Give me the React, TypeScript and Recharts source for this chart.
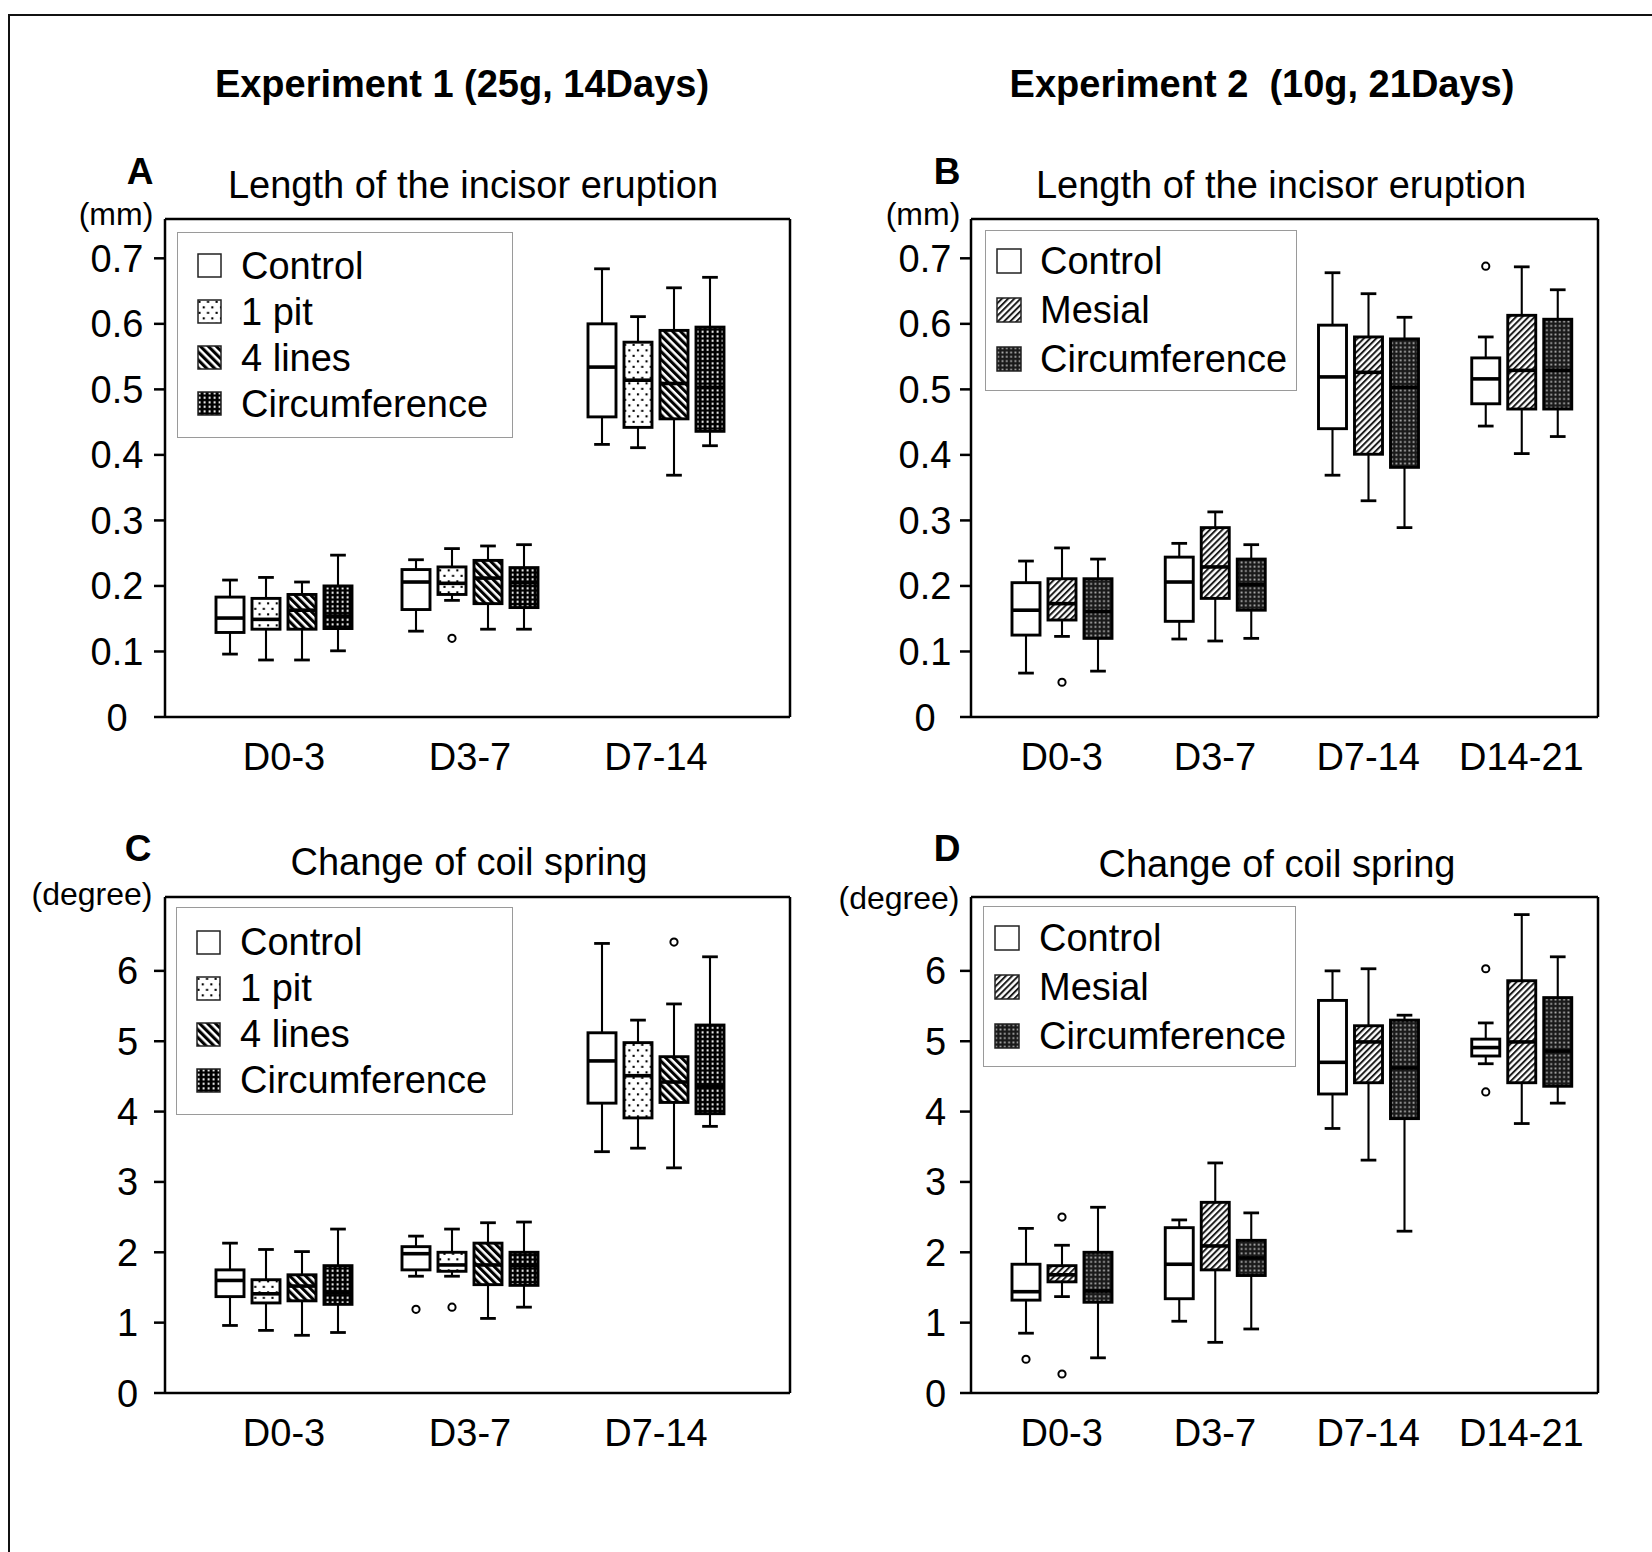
import React from 'react';
import { Bar, ComposedChart, Legend, XAxis, YAxis } from 'recharts';

const FONT = '"Liberation Sans", Arial, Helvetica, sans-serif';

// categories and labels
const exp1Days = ['D0-3', 'D3-7', 'D7-14'];
const exp2Days = ['D0-3', 'D3-7', 'D7-14', 'D14-21'];
const exp1Names = ['Control', '1 pit', '4 lines', 'Circumference'];
const exp2Names = ['Control', 'Mesial', 'Circumference'];
const mmTicks = [0, 0.1, 0.2, 0.3, 0.4, 0.5, 0.6, 0.7];
const degreeTicks = [0, 1, 2, 3, 4, 5, 6];

// each row: [low whisker, Q1, median, Q3, high whisker] for one day
// A - incisor eruption, experiment 1 (mm)
const aControl = [
  [0.096, 0.129, 0.151, 0.183, 0.209],
  [0.131, 0.164, 0.206, 0.225, 0.24],
  [0.416, 0.458, 0.534, 0.6, 0.684],
];
const aPit = [
  [0.087, 0.134, 0.149, 0.181, 0.213],
  [0.178, 0.187, 0.204, 0.229, 0.257],
  [0.411, 0.442, 0.514, 0.572, 0.611],
];
const aLines = [
  [0.087, 0.134, 0.163, 0.187, 0.206],
  [0.134, 0.173, 0.212, 0.239, 0.261],
  [0.369, 0.455, 0.509, 0.59, 0.655],
];
const aCirc = [
  [0.101, 0.135, 0.154, 0.2, 0.247],
  [0.134, 0.167, 0.205, 0.228, 0.263],
  [0.414, 0.436, 0.503, 0.595, 0.671],
];
const aPitOut = [[], [0.12], []];

// B - incisor eruption, experiment 2 (mm)
const bControl = [
  [0.067, 0.125, 0.163, 0.205, 0.238],
  [0.119, 0.146, 0.206, 0.244, 0.265],
  [0.369, 0.44, 0.519, 0.598, 0.678],
  [0.444, 0.478, 0.516, 0.548, 0.58],
];
const bMesial = [
  [0.123, 0.148, 0.173, 0.211, 0.258],
  [0.116, 0.181, 0.229, 0.289, 0.313],
  [0.33, 0.401, 0.526, 0.58, 0.646],
  [0.402, 0.47, 0.529, 0.613, 0.687],
];
const bCirc = [
  [0.07, 0.12, 0.161, 0.211, 0.241],
  [0.12, 0.163, 0.202, 0.241, 0.263],
  [0.289, 0.381, 0.503, 0.577, 0.61],
  [0.428, 0.47, 0.529, 0.607, 0.652],
];
const bControlOut = [[], [], [], [0.688]];
const bMesialOut = [[0.053], [], [], []];

// C - coil spring, experiment 1 (degree)
const cControl = [
  [0.96, 1.37, 1.6, 1.75, 2.13],
  [1.66, 1.75, 1.98, 2.08, 2.23],
  [3.43, 4.12, 4.72, 5.12, 6.39],
];
const cPit = [
  [0.89, 1.28, 1.41, 1.61, 2.04],
  [1.66, 1.73, 1.82, 2.0, 2.33],
  [3.48, 3.91, 4.51, 4.98, 5.3],
];
const cLines = [
  [0.82, 1.31, 1.52, 1.68, 2.01],
  [1.06, 1.54, 1.82, 2.13, 2.42],
  [3.2, 4.13, 4.42, 4.78, 5.53],
];
const cCirc = [
  [0.86, 1.26, 1.42, 1.81, 2.33],
  [1.22, 1.53, 1.81, 2.0, 2.43],
  [3.79, 3.97, 4.36, 5.23, 6.2],
];
const cControlOut = [[], [1.19], []];
const cPitOut = [[], [1.22], []];
const cLinesOut = [[], [], [6.41]];

// D - coil spring, experiment 2 (degree)
const dControl = [
  [0.85, 1.32, 1.44, 1.83, 2.34],
  [1.02, 1.34, 1.83, 2.35, 2.46],
  [3.76, 4.25, 4.7, 5.58, 6.0],
  [4.68, 4.79, 4.91, 5.03, 5.26],
];
const dMesial = [
  [1.37, 1.58, 1.68, 1.81, 2.1],
  [0.72, 1.75, 2.09, 2.71, 3.27],
  [3.31, 4.41, 4.99, 5.22, 6.03],
  [3.83, 4.41, 4.99, 5.86, 6.8],
];
const dCirc = [
  [0.5, 1.29, 1.45, 2.0, 2.64],
  [0.91, 1.67, 1.92, 2.17, 2.56],
  [2.3, 3.9, 4.62, 5.3, 5.37],
  [4.12, 4.36, 4.86, 5.62, 6.2],
];
const dControlOut = [[0.48], [], [], [6.03, 4.28]];
const dMesialOut = [[2.5, 0.27], [], [], []];

const none3: number[][] = [[], [], []];
const none4: number[][] = [[], [], [], []];

const FILLS1 = ['#fff', 'url(#pat-pit)', 'url(#pat-lines)', 'url(#pat-circ)'];
const FILLS2 = ['#fff', 'url(#pat-mesial)', 'url(#pat-circ2)'];

type Group = { name: string; fill: string; box: number[][]; out: number[][] };

function groupsOf(names: string[], fills: string[], boxes: number[][][], outs: number[][][]): Group[] {
  return names.map((name, k) => ({ name, fill: fills[k], box: boxes[k], out: outs[k] }));
}

function buildRows(days: string[], groups: Group[]) {
  return days.map((day, i) => {
    const row: any = { day };
    groups.forEach((g, k) => {
      const box = g.box[i];
      const out = g.out[i];
      const all = [box[0], box[4], ...out];
      const min = Math.min(...all);
      const max = Math.max(...all);
      row['s' + k] = { box, out, min, max };
      row['r' + k] = [min, max];
    });
    return row;
  });
}

function BoxShape(props: any) {
  const { x, y, width, height, stats, fill } = props;
  if (!stats || width == null) return null;
  const [lo, q1, med, q3, hi] = stats.box;
  const top = Math.min(y, y + height);
  const span = Math.abs(height);
  const range = stats.max - stats.min || 1;
  const py = (v: number) => top + ((stats.max - v) / range) * span;
  const cx = x + width / 2;
  const cap = width * 0.56;
  return (
    <g>
      <line x1={cx} x2={cx} y1={py(hi)} y2={py(q3)} stroke="#000" strokeWidth={2.1} />
      <line x1={cx} x2={cx} y1={py(q1)} y2={py(lo)} stroke="#000" strokeWidth={2.1} />
      <line x1={cx - cap / 2} x2={cx + cap / 2} y1={py(hi)} y2={py(hi)} stroke="#000" strokeWidth={2.8} />
      <line x1={cx - cap / 2} x2={cx + cap / 2} y1={py(lo)} y2={py(lo)} stroke="#000" strokeWidth={2.8} />
      <rect x={x} y={py(q3)} width={width} height={py(q1) - py(q3)} fill={fill} stroke="#000" strokeWidth={2.9} />
      <line x1={x} x2={x + width} y1={py(med)} y2={py(med)} stroke="#000" strokeWidth={3.6} />
      {stats.out.map((v: number, i: number) => (
        <circle key={i} cx={cx} cy={py(v)} r={3.6} fill="#fff" stroke="#000" strokeWidth={2} />
      ))}
    </g>
  );
}

type LegendBox = { x: number; y: number; w: number; h: number; first: number; step: number; swX: number; sw: number; txtX: number };

function PanelLegend({ groups, lg }: { groups: Group[]; lg: LegendBox }) {
  return (
    <div
      style={{
        width: lg.w,
        height: lg.h,
        border: '1.5px solid #9a9a9a',
        boxSizing: 'border-box',
        background: '#fff',
        position: 'relative',
        fontFamily: FONT,
      }}
    >
      {groups.map((g, i) => (
        <div key={g.name} style={{ position: 'absolute', left: 0, top: lg.first + i * lg.step - 22, height: 44, width: lg.w }}>
          <svg width={lg.sw + 2} height={lg.sw + 2} style={{ position: 'absolute', left: lg.swX - 1, top: 22 - lg.sw / 2 - 1 }}>
            <rect x={1} y={1} width={lg.sw} height={lg.sw} fill={g.fill} stroke="#222" strokeWidth={1.5} />
          </svg>
          <span style={{ position: 'absolute', left: lg.txtX, top: 0, lineHeight: '44px', fontSize: 38, whiteSpace: 'nowrap', color: '#000' }}>
            {g.name}
          </span>
        </div>
      ))}
    </div>
  );
}

type PanelProps = {
  frame: { x: number; y: number; w: number; h: number };
  days: string[];
  groups: Group[];
  domain: [number, number];
  ticks: number[];
  fmt: (v: number) => string;
  pad: { left: number; right: number };
  labelOffset: number;
  legend: LegendBox;
};

const L = 110;
const T = 20;
const R = 20;
const B = 80;

function Panel({ frame, days, groups, domain, ticks, fmt, pad, labelOffset, legend }: PanelProps) {
  const rows = buildRows(days, groups);
  const left = frame.x - L;
  const top = frame.y - T;
  const axisStroke = { stroke: '#000', strokeWidth: 2.5 };
  return (
    <div style={{ position: 'absolute', left, top }}>
      <ComposedChart
        width={frame.w + L + R}
        height={frame.h + T + B}
        data={rows}
        margin={{ top: T - 1, right: R - 1, left: 0, bottom: 0 }}
        barGap={8}
        barSize={28}
      >
        <XAxis
          dataKey="day"
          height={B}
          padding={pad}
          axisLine={axisStroke}
          tickLine={false}
          tickSize={0}
          tickMargin={26}
          interval={0}
          tick={(p: any) => (
            <text x={p.x} y={p.y} dy={27} textAnchor="middle" fontFamily={FONT} fontSize={38} fill="#000">
              {p.payload.value}
            </text>
          )}
        />
        <XAxis
          xAxisId="top"
          dataKey="day"
          orientation="top"
          height={1}
          tick={false}
          tickLine={false}
          axisLine={axisStroke}
        />
        <YAxis
          width={L}
          domain={domain}
          ticks={ticks}
          type="number"
          allowDataOverflow
          axisLine={axisStroke}
          tickLine={axisStroke}
          tickSize={11}
          tickMargin={labelOffset - 11}
          interval={0}
          tick={(p: any) => (
            <text x={p.x} y={p.y} dy={13.5} textAnchor="middle" fontFamily={FONT} fontSize={38} fill="#000">
              {fmt(p.payload.value)}
            </text>
          )}
        />
        <YAxis
          yAxisId="right"
          orientation="right"
          width={1}
          domain={[0, 1]}
          tick={false}
          tickLine={false}
          axisLine={axisStroke}
        />
        {groups.map((g, k) => (
          <Bar
            key={g.name}
            name={g.name}
            dataKey={'r' + k}
            barSize={28}
            isAnimationActive={false}
            shape={(p: any) => <BoxShape {...p} stats={p.payload['s' + k]} fill={g.fill} />}
          />
        ))}
        <Legend
          layout="vertical"
          align="center"
          verticalAlign="middle"
          wrapperStyle={{ left: legend.x - left, top: legend.y - top, width: legend.w, height: legend.h }}
          content={() => <PanelLegend groups={groups} lg={legend} />}
        />
      </ComposedChart>
    </div>
  );
}

const fmtMm = (v: number) => (v === 0 ? '0' : v.toFixed(1));
const fmtDeg = (v: number) => String(v);

const groupsA = groupsOf(exp1Names, FILLS1, [aControl, aPit, aLines, aCirc], [none3, aPitOut, none3, none3]);
const groupsB = groupsOf(exp2Names, FILLS2, [bControl, bMesial, bCirc], [bControlOut, bMesialOut, none4]);
const groupsC = groupsOf(exp1Names, FILLS1, [cControl, cPit, cLines, cCirc], [cControlOut, cPitOut, cLinesOut, none3]);
const groupsD = groupsOf(exp2Names, FILLS2, [dControl, dMesial, dCirc], [dControlOut, dMesialOut, none4]);

function Patterns() {
  return (
    <svg width={0} height={0} style={{ position: 'absolute', left: 0, top: 0 }}>
      <defs>
        <pattern id="pat-pit" patternUnits="userSpaceOnUse" width={8.6} height={11}>
          <rect width={8.6} height={11} fill="#fff" />
          <rect x={1.4} y={1.8} width={2.1} height={2.1} fill="#000" />
          <rect x={5.7} y={7.3} width={2.1} height={2.1} fill="#000" />
        </pattern>
        <pattern id="pat-lines" patternUnits="userSpaceOnUse" width={5.6} height={5.6} patternTransform="rotate(-45)">
          <rect width={5.6} height={5.6} fill="#fff" />
          <rect width={3.1} height={5.6} fill="#000" />
        </pattern>
        <pattern id="pat-mesial" patternUnits="userSpaceOnUse" width={4.4} height={4.4} patternTransform="rotate(45)">
          <rect width={4.4} height={4.4} fill="#fff" />
          <rect width={2} height={4.4} fill="#1c1c1c" />
        </pattern>
        <pattern id="pat-circ" patternUnits="userSpaceOnUse" width={5} height={4.5}>
          <rect width={5} height={4.5} fill="#000" />
          <rect x={1.6} y={1.3} width={2} height={2} fill="#fff" />
        </pattern>
        <pattern id="pat-circ2" patternUnits="userSpaceOnUse" width={4.3} height={4.3}>
          <rect width={4.3} height={4.3} fill="#1a1a1a" />
          <rect x={1.3} y={1.3} width={1.8} height={1.8} fill="#b0b0b0" />
        </pattern>
      </defs>
    </svg>
  );
}

function Labels() {
  const t = { fontFamily: FONT, fill: '#000' };
  return (
    <svg width={1652} height={1552} style={{ position: 'absolute', left: 0, top: 0, pointerEvents: 'none' }}>
      <rect x={9} y={15} width={1700} height={1600} fill="none" stroke="#111" strokeWidth={2} />
      <text {...t} x={462} y={97} fontSize={38} fontWeight="bold" textAnchor="middle">
        Experiment 1 (25g, 14Days)
      </text>
      <text {...t} x={1262} y={97} fontSize={38} fontWeight="bold" textAnchor="middle" style={{ whiteSpace: 'pre' }}>
        Experiment 2  (10g, 21Days)
      </text>
      <text {...t} x={140} y={184} fontSize={37} fontWeight="bold" textAnchor="middle">A</text>
      <text {...t} x={947} y={184} fontSize={37} fontWeight="bold" textAnchor="middle">B</text>
      <text {...t} x={138} y={861} fontSize={37} fontWeight="bold" textAnchor="middle">C</text>
      <text {...t} x={947} y={861} fontSize={37} fontWeight="bold" textAnchor="middle">D</text>
      <text {...t} x={473} y={198} fontSize={38} textAnchor="middle">Length of the incisor eruption</text>
      <text {...t} x={1281} y={198} fontSize={38} textAnchor="middle">Length of the incisor eruption</text>
      <text {...t} x={469} y={875} fontSize={38} textAnchor="middle">Change of coil spring</text>
      <text {...t} x={1277} y={877} fontSize={38} textAnchor="middle">Change of coil spring</text>
      <text {...t} x={116} y={225} fontSize={32} textAnchor="middle">(mm)</text>
      <text {...t} x={923} y={225} fontSize={32} textAnchor="middle">(mm)</text>
      <text {...t} x={92} y={905} fontSize={32} textAnchor="middle">(degree)</text>
      <text {...t} x={899} y={909} fontSize={32} textAnchor="middle">(degree)</text>
    </svg>
  );
}

export default function App() {
  return (
    <div style={{ position: 'absolute', left: 0, top: 0, width: 1652, height: 1552, background: '#fff', overflow: 'hidden' }}>
      <Patterns />
      <Labels />
      <Panel
        frame={{ x: 165, y: 219, w: 625, h: 498 }}
        days={exp1Days}
        groups={groupsA}
        domain={[0, 0.76]}
        ticks={mmTicks}
        fmt={fmtMm}
        pad={{ left: 26, right: 41 }}
        labelOffset={48}
        legend={{ x: 177, y: 232, w: 336, h: 206, first: 32.5, step: 46, swX: 20, sw: 23, txtX: 63 }}
      />
      <Panel
        frame={{ x: 971, y: 219, w: 627, h: 498 }}
        days={exp2Days}
        groups={groupsB}
        domain={[0, 0.76]}
        ticks={mmTicks}
        fmt={fmtMm}
        pad={{ left: 14, right: 0 }}
        labelOffset={46}
        legend={{ x: 985, y: 230, w: 312, h: 161, first: 30, step: 49, swX: 11, sw: 24, txtX: 54 }}
      />
      <Panel
        frame={{ x: 165, y: 897, w: 625, h: 496 }}
        days={exp1Days}
        groups={groupsC}
        domain={[0, 7.05]}
        ticks={degreeTicks}
        fmt={fmtDeg}
        pad={{ left: 26, right: 41 }}
        labelOffset={37.5}
        legend={{ x: 176, y: 907, w: 337, h: 208, first: 34, step: 46, swX: 20, sw: 23, txtX: 63 }}
      />
      <Panel
        frame={{ x: 971, y: 897, w: 627, h: 496 }}
        days={exp2Days}
        groups={groupsD}
        domain={[0, 7.05]}
        ticks={degreeTicks}
        fmt={fmtDeg}
        pad={{ left: 14, right: 0 }}
        labelOffset={35.5}
        legend={{ x: 983, y: 906, w: 313, h: 161, first: 31, step: 49, swX: 11, sw: 24, txtX: 55 }}
      />
    </div>
  );
}
